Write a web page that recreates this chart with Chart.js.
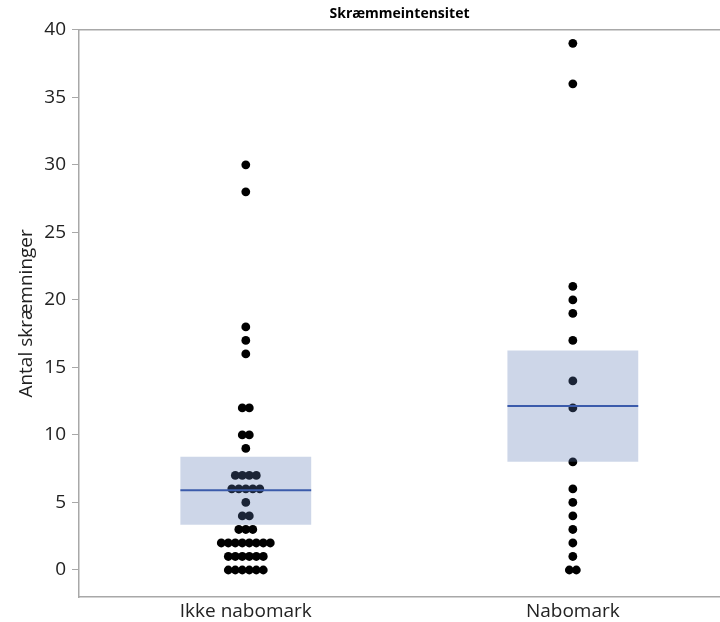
<!DOCTYPE html>
<html>
<head>
<meta charset="utf-8">
<script src="https://cdn.jsdelivr.net/npm/chart.js@4.4.1/dist/chart.umd.min.js"></script>
<style>
  html, body { margin: 0; padding: 0; background: #fff; }
  #wrap { width: 720px; height: 622px; position: relative; }
</style>
</head>
<body>
<div id="wrap"><canvas id="c"></canvas></div>
<script>
// Groups on the x axis
const categories = ['Ikke nabomark', 'Nabomark'];

// Individual observations (number of scares) per group
const ikkeNabomark = [30, 28, 18, 17, 16, 12, 12, 10, 10, 9,
  7, 7, 7, 7, 6, 6, 6, 6, 6, 5, 4, 4, 3, 3, 3,
  2, 2, 2, 2, 2, 2, 2, 2, 1, 1, 1, 1, 1, 1, 0, 0, 0, 0, 0, 0];
const nabomark = [39, 36, 21, 20, 19, 17, 14, 12, 8, 6, 5, 4, 3, 2, 1, 0, 0];

// Box (interval) and centre line per group
const boxLow  = [3.35, 8.02];
const boxHigh = [8.39, 16.25];
const centre  = [5.9, 12.15];

// Y axis tick values
const yTicks = [0, 5, 10, 15, 20, 25, 30, 35, 40];

const groups = [ikkeNabomark, nabomark];
const DOT_STEP = 0.0214;   // horizontal spacing between tied dots (x units)
const BOX_HALF = 0.2;      // half width of a box (x units)

// Spread tied values side by side around the group position
function dotPoints(values, gi) {
  const counts = {};
  values.forEach(v => { counts[v] = (counts[v] || 0) + 1; });
  const seen = {};
  return values.map(v => {
    const i = seen[v] || 0;
    seen[v] = i + 1;
    return { x: gi + (i - (counts[v] - 1) / 2) * DOT_STEP, y: v };
  });
}

const dotData = [];
groups.forEach((g, gi) => dotData.push(...dotPoints(g, gi)));

const datasets = [];
categories.forEach((c, gi) => {
  datasets.push({
    type: 'line',
    data: [{ x: gi - BOX_HALF, y: centre[gi] }, { x: gi + BOX_HALF, y: centre[gi] }],
    borderColor: '#3b5bab',
    borderWidth: 2,
    pointRadius: 0,
    fill: false,
    order: 0
  });
});
datasets.push({
  type: 'bar',
  data: categories.map((c, gi) => ({ x: gi, y: [boxLow[gi], boxHigh[gi]] })),
  backgroundColor: 'rgba(88, 118, 178, 0.30)',
  borderWidth: 0,
  categoryPercentage: 1,
  barPercentage: 2 * BOX_HALF,
  order: 1
});
datasets.push({
  type: 'scatter',
  data: dotData,
  backgroundColor: '#000',
  borderWidth: 0,
  pointRadius: 4.4,
  order: 2
});

// Thin frame line along the top of the plot area
const topFrame = {
  id: 'topFrame',
  afterDraw(chart) {
    const { ctx, chartArea } = chart;
    ctx.save();
    ctx.strokeStyle = '#a8a8a8';
    ctx.lineWidth = 1.5;
    ctx.beginPath();
    ctx.moveTo(chartArea.left, chartArea.top);
    ctx.lineTo(chartArea.right, chartArea.top);
    ctx.stroke();
    ctx.restore();
  }
};

new Chart(document.getElementById('c'), {
  type: 'scatter',
  data: { datasets },
  plugins: [topFrame],
  options: {
    responsive: true,
    maintainAspectRatio: false,
    animation: false,
    layout: { autoPadding: false, padding: { left: 0, right: 0, top: 0, bottom: 0 } },
    plugins: {
      legend: { display: false },
      tooltip: { enabled: false },
      title: {
        display: true,
        text: 'Skræmmeintensitet',
        fullSize: false,
        color: '#000',
        font: { family: 'Open Sans', size: 14, weight: 'bold' },
        padding: { top: 6, bottom: 7 }
      }
    },
    scales: {
      x: {
        type: 'linear',
        offset: false,
        min: -0.51,
        max: 1.45,
        afterBuildTicks(axis) { axis.ticks = categories.map((c, i) => ({ value: i })); },
        afterFit(axis) { axis.height = 25; axis.paddingRight = 0; axis.paddingLeft = 0; },
        ticks: {
          callback: v => categories[v],
          color: '#222',
          font: { family: 'Open Sans', size: 19 },
          padding: -5,
          maxRotation: 0
        },
        grid: { display: false },
        border: { display: true, color: '#a8a8a8', width: 1.5 }
      },
      y: {
        type: 'linear',
        min: -2,
        max: 40,
        afterBuildTicks(axis) { axis.ticks = yTicks.map(v => ({ value: v })); },
        afterFit(axis) { axis.width = 79; },
        ticks: {
          color: '#222',
          font: { family: 'Open Sans', size: 19 },
          padding: 6
        },
        grid: { drawOnChartArea: false, drawTicks: true, tickLength: 7, color: '#a8a8a8' },
        border: { display: true, color: '#a8a8a8', width: 1.5 },
        title: {
          display: true,
          text: 'Antal skræmninger',
          color: '#222',
          font: { family: 'Open Sans', size: 19 },
          padding: { top: 15, bottom: 0 }
        }
      }
    }
  }
});
</script>
</body>
</html>
